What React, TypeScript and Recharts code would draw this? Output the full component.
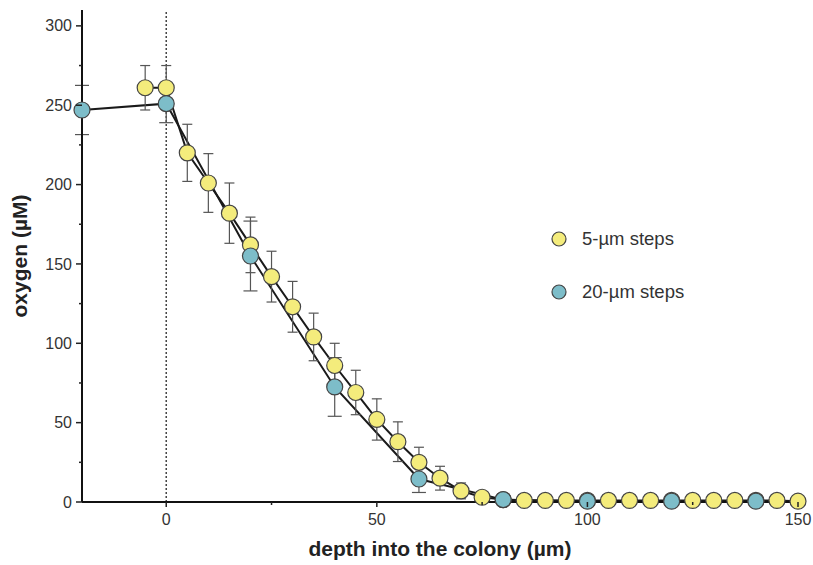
import React from "react"
import {
  ComposedChart,
  Line,
  XAxis,
  YAxis,
  ErrorBar,
  ReferenceLine,
  Legend,
  Label,
} from "recharts"

// 5-µm profile
const depth5 = [
  -5, 0, 5, 10, 15, 20, 25, 30, 35, 40, 45, 50, 55, 60, 65, 70, 75, 80, 85, 90,
  95, 100, 105, 110, 115, 120, 125, 130, 135, 140, 145, 150,
]
const oxygen5 = [
  261, 261, 220, 201, 182, 162, 142, 123, 104, 86, 69, 52, 38, 25, 15, 7, 3,
  1.5, 1, 1, 1, 1, 1, 1, 1, 1, 1, 1, 1, 1, 1, 0.5,
]
const err5 = [
  14, 14, 18, 18.5, 19, 17.5, 16, 16, 15, 14, 14, 13, 12.5, 9.5, 7.5, 5, 3, 1,
  0, 0, 0, 0, 0, 0, 0, 0, 0, 0, 0, 0, 0, 0,
]

// 20-µm profile
const depth20 = [-20, 0, 20, 40, 60, 80, 100, 120, 140]
const oxygen20 = [247, 251, 155, 72.5, 14.5, 1.5, 0.5, 0.5, 0.5]
const err20 = [15.5, 12, 22, 18.5, 8.5, 0, 0, 0, 0]

const xTicks = [0, 25, 50, 75, 100, 125, 150]
const yTicks = [0, 25, 50, 75, 100, 125, 150, 175, 200, 225, 250, 275, 300]

const YELLOW = "#f4ec7c"
const BLUE = "#7dbdc9"
const FONT = "'Liberation Sans', Arial, sans-serif"

const series = [
  { name: "5-µm steps", fill: YELLOW },
  { name: "20-µm steps", fill: BLUE },
]

const data5 = depth5.map((d, i) => ({ depth: d, o2: oxygen5[i], err: err5[i] }))
const data20 = depth20.map((d, i) => ({
  depth: d,
  o2: oxygen20[i],
  err: err20[i],
}))

const YTick = (props: any) => {
  const { x, y, payload } = props
  const axisX = x + 10
  const major = payload.value % 50 === 0
  return (
    <g>
      <line
        x1={axisX - (major ? 6 : 3)}
        x2={axisX}
        y1={y}
        y2={y}
        stroke="#222"
        strokeWidth={1.5}
      />
      {major && (
        <text
          x={x}
          y={y}
          dy="0.35em"
          textAnchor="end"
          fontSize={16}
          fill="#333"
          fontFamily={FONT}
        >
          {payload.value}
        </text>
      )}
    </g>
  )
}

const XTick = (props: any) => {
  const { x, y, payload } = props
  const axisY = y - 10
  const major = payload.value % 50 === 0
  return (
    <g>
      <line
        x1={x}
        x2={x}
        y1={axisY}
        y2={axisY + (major ? 5 : 3)}
        stroke="#222"
        strokeWidth={1.5}
      />
      {major && (
        <text
          x={x}
          y={y + 2}
          dy="0.71em"
          textAnchor="middle"
          fontSize={16}
          fill="#333"
          fontFamily={FONT}
        >
          {payload.value}
        </text>
      )}
    </g>
  )
}

const LegendBox = () => (
  <div style={{ fontFamily: FONT, fontSize: 18.5, color: "#333" }}>
    {series.map((s) => (
      <div
        key={s.name}
        style={{ display: "flex", alignItems: "center", height: 53 }}
      >
        <svg width={22} height={18}>
          <circle cx={9} cy={9} r={7} fill={s.fill} stroke="#444" strokeWidth={1.2} />
        </svg>
        <span style={{ marginLeft: 10 }}>{s.name}</span>
      </div>
    ))}
  </div>
)

export default function App() {
  return (
    <div style={{ position: "absolute", left: 0, top: 0, background: "#fff" }}>
      <ComposedChart
        width={813}
        height={565}
        margin={{ top: 10, right: 15, bottom: 23, left: 22 }}
      >
        <XAxis
          dataKey="depth"
          type="number"
          domain={[-20, 150]}
          ticks={xTicks}
          tick={<XTick />}
          tickLine={false}
          tickSize={6}
          tickMargin={4}
          height={40}
          axisLine={{ stroke: "#111", strokeWidth: 2 }}
        >
          <Label
            value="depth into the colony (µm)"
            position="insideBottom"
            offset={-14}
            style={{
              fontFamily: FONT,
              fontWeight: "bold",
              fontSize: 21,
              fill: "#222",
            }}
          />
        </XAxis>
        <YAxis
          type="number"
          domain={[0, 310]}
          ticks={yTicks}
          tick={<YTick />}
          tickLine={false}
          tickSize={6}
          tickMargin={4}
          width={60}
          axisLine={{ stroke: "#111", strokeWidth: 2 }}
        >
          <Label
            value="oxygen (µM)"
            angle={-90}
            position="insideLeft"
            offset={-2}
            style={{
              fontFamily: FONT,
              fontWeight: "bold",
              fontSize: 21,
              fill: "#222",
              textAnchor: "middle",
            }}
          />
        </YAxis>
        <ReferenceLine
          x={0}
          stroke="#444"
          strokeWidth={1.5}
          strokeDasharray="2 2"
        />
        <Line
          data={data5}
          dataKey="o2"
          stroke="#1a1a1a"
          strokeWidth={2}
          dot={false}
          legendType="none"
          isAnimationActive={false}
        />
        <Line
          data={data20}
          dataKey="o2"
          stroke="#1a1a1a"
          strokeWidth={2}
          dot={false}
          legendType="none"
          isAnimationActive={false}
        />
        <Line
          data={data5}
          dataKey="o2"
          name={series[0].name}
          stroke="none"
          dot={{ r: 8, fill: YELLOW, stroke: "#444", strokeWidth: 1.2 }}
          isAnimationActive={false}
        >
          <ErrorBar
            dataKey="err"
            direction="y"
            width={5}
            stroke="#555"
            strokeWidth={1.2}
          />
        </Line>
        <Line
          data={data20}
          dataKey="o2"
          name={series[1].name}
          stroke="none"
          dot={{ r: 8, fill: BLUE, stroke: "#444", strokeWidth: 1.2 }}
          isAnimationActive={false}
        >
          <ErrorBar
            dataKey="err"
            direction="y"
            width={7}
            stroke="#555"
            strokeWidth={1.2}
          />
        </Line>
        <Legend
          layout="vertical"
          align="center"
          verticalAlign="middle"
          content={<LegendBox />}
          wrapperStyle={{ left: 550, top: 212, width: 220 }}
        />
      </ComposedChart>
    </div>
  )
}
